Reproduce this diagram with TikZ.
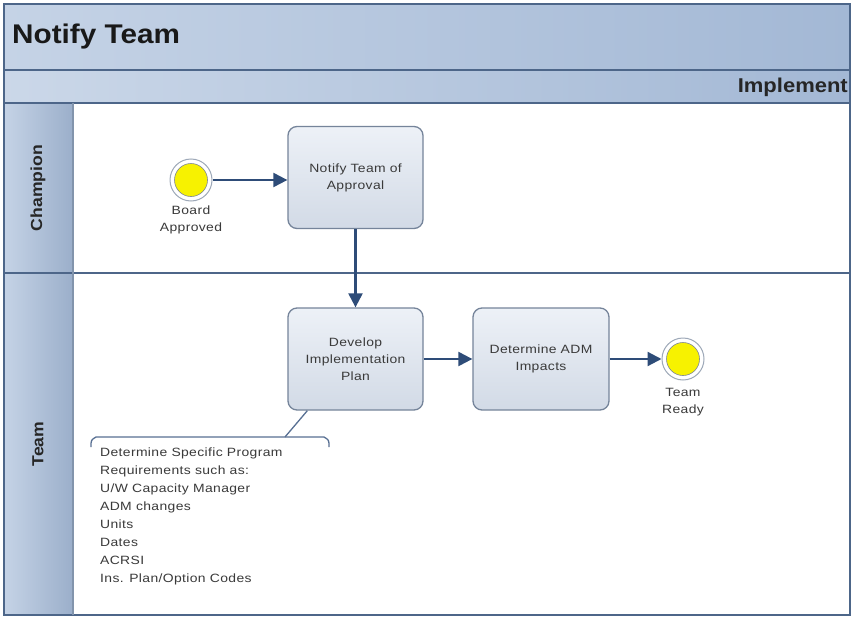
\documentclass[tikz,border=0pt]{standalone}
\usepackage{fontspec}
\setmainfont{Liberation Sans}
\newfontfamily\widesans[FakeStretch=1.16, LetterSpace=3]{Liberation Sans}
\newfontfamily\headsans[FakeStretch=1.1]{Liberation Sans}
\usetikzlibrary{arrows.meta,shapes.geometric}
\definecolor{frameblue}{HTML}{4D6689}
\definecolor{bandlight}{HTML}{C5D3E6}
\definecolor{banddark}{HTML}{A3B8D5}
\definecolor{boxedge}{HTML}{75849A}
\definecolor{boxtop}{HTML}{EDF1F7}
\definecolor{boxbot}{HTML}{D2DAE6}
\definecolor{flowblue}{HTML}{2E4C78}
\definecolor{txtgray}{HTML}{3A3A3A}
\definecolor{evyellow}{HTML}{F7F200}
\definecolor{evring}{HTML}{9DA8B8}
\tikzset{
  taskbox/.style={draw=boxedge, line width=1.3pt, rounded corners=9pt,
    top color=boxtop, bottom color=boxbot, minimum width=135pt,
    minimum height=102pt, align=center, text width=128pt,
    font=\widesans\fontsize{12}{17}\selectfont, text=txtgray},
  eventc/.style={circle, draw=evring, line width=1pt, fill=white,
    minimum size=42pt, inner sep=0pt},
  evinner/.style={circle, draw=evring!80!black, line width=0.6pt,
    fill=evyellow, minimum size=33pt, inner sep=0pt},
  evlabel/.style={align=center, font=\widesans\fontsize{12}{17}\selectfont,
    text=txtgray, inner sep=0pt},
  flow/.style={draw=flowblue, line width=2.2pt,
    -{Triangle[length=14pt,width=14pt]}},
  lanehead/.style={font=\headsans\fontsize{16}{18}\selectfont\bfseries,
    rotate=90, text=black!85},
}
\begin{document}
\begin{tikzpicture}[x=1pt,y=-1pt]
\useasboundingbox (0,0) rectangle (853,618);
% pool background and bands
\fill[white] (4,4) rectangle (850,615);
\shade[left color=bandlight, right color=banddark] (4,4) rectangle (850,70);
\shade[left color=bandlight!90!white, right color=banddark] (4,70) rectangle (850,103);
\shade[left color=bandlight, right color=banddark!95!black] (4,103) rectangle (73,615);
% frame lines
\draw[frameblue, line width=1.6pt] (4,4) rectangle (850,615);
\draw[frameblue, line width=1.6pt] (4,70) -- (850,70);
\draw[frameblue, line width=1.6pt] (4,103) -- (850,103);
\draw[frameblue, line width=1.6pt] (4,273) -- (850,273);
\draw[frameblue!70, line width=1.2pt] (73,103) -- (73,615);
% titles
\node[anchor=west, inner sep=0pt, font=\headsans\fontsize{27}{30}\selectfont\bfseries,
  text=black!90] (title) at (12,37) {Notify Team};
\node[anchor=east, inner sep=0pt, font=\headsans\fontsize{20}{22}\selectfont\bfseries,
  text=black!85] (phase) at (848,87) {Implement};
\node[lanehead] (laneA) at (38,188) {Champion};
\node[lanehead] (laneB) at (38,444) {Team};
% events
\node[eventc] (start) at (191,180) {};
\node[evinner] at (start) {};
\node[evlabel] (startlbl) at (191,220) {Board\\Approved};
\node[eventc] (finish) at (683,359) {};
\node[evinner] at (finish) {};
\node[evlabel] (finishlbl) at (683,402) {Team\\Ready};
% tasks
\node[taskbox] (notify) at (355.5,177.5) {Notify Team of\\Approval};
\node[taskbox] (develop) at (355.5,359) {Develop\\Implementation\\Plan};
\node[taskbox, minimum width=136pt] (adm) at (541,359) {Determine ADM\\Impacts};
% sequence flows
\draw[flow] (start) -- (start -| notify.west);
\draw[flow] (notify) -- (develop);
\draw[flow] (develop) -- (adm);
\draw[flow] (adm) -- (finish);
% annotation
\node[anchor=north west, inner sep=0pt, align=left, text=txtgray,
  font=\widesans\fontsize{12}{18}\selectfont] (note) at (100,448)
  {Determine Specific Program\\Requirements such as:\\U/W Capacity Manager\\ADM changes\\Units\\Dates\\ACRSI\\Ins. Plan/Option Codes};
\coordinate (notetop) at (285,437);
\draw[flowblue!80, line width=1.3pt] (91,447) .. controls (91,440) .. (96,437)
  -- (324,437) .. controls (329,440) .. (329,447);
\draw[flowblue!80, line width=1.3pt] (notetop) -- ([xshift=20pt]develop.south west);
\end{tikzpicture}
\end{document}
